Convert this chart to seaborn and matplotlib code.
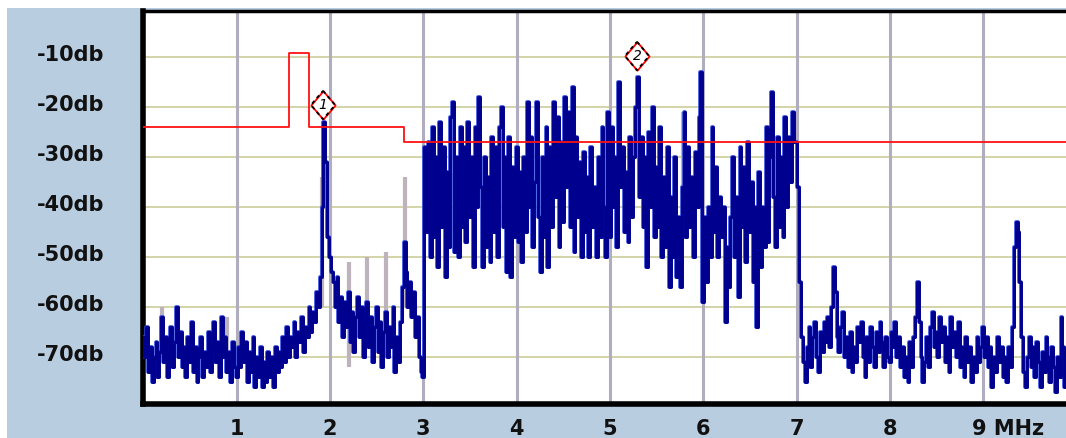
import numpy as np
import pandas as pd
import seaborn as sns
import matplotlib.pyplot as plt
from matplotlib.path import Path
from matplotlib.patches import Rectangle
from matplotlib.transforms import ScaledTranslation

# analyzer takes one reading every 0.02 MHz; one list per MHz band (db)
sweep_step = 0.02
level_0 = [-66, -70, -64, -73, -68, -75, -70, -67, -74, -69,
           -62, -71, -66, -74, -69, -64, -72, -67, -60, -70,
           -65, -72, -68, -74, -66, -71, -63, -73, -68, -75,
           -70, -66, -74, -69, -72, -65, -73, -68, -63, -71,
           -67, -74, -62, -70, -66, -73, -69, -75, -67, -72]
level_1 = [-74, -68, -72, -65, -71, -67, -75, -69, -73, -66,
           -76, -70, -74, -68, -76, -71, -75, -69, -74, -70,
           -76, -68, -73, -69, -72, -66, -71, -64, -70, -66,
           -68, -63, -70, -65, -67, -62, -69, -64, -66, -60,
           -65, -61, -63, -57, -60, -54, -40, -23, -31, -46]
level_2 = [-50, -53, -55, -60, -54, -63, -58, -66, -59, -64,
           -57, -67, -61, -69, -62, -58, -66, -60, -70, -63,
           -59, -68, -62, -71, -64, -60, -69, -63, -72, -65,
           -61, -70, -64, -68, -60, -73, -66, -71, -63, -56,
           -47, -53, -60, -55, -62, -57, -66, -62, -70, -73]
level_3 = [-74, -28, -45, -27, -50, -24, -46, -30, -52, -23,
           -44, -28, -54, -33, -48, -22, -19, -49, -30, -50,
           -24, -44, -28, -47, -23, -42, -30, -52, -24, -40,
           -18, -36, -52, -30, -48, -34, -51, -26, -45, -28,
           -50, -24, -20, -44, -30, -53, -26, -54, -32, -46]
level_4 = [-28, -47, -33, -51, -30, -45, -19, -40, -26, -48,
           -35, -19, -42, -53, -30, -46, -24, -52, -28, -44,
           -19, -38, -22, -48, -27, -43, -18, -36, -21, -44,
           -16, -49, -26, -42, -31, -50, -29, -45, -34, -50,
           -28, -44, -36, -50, -30, -46, -24, -40, -50, -21]
level_5 = [-46, -24, -40, -30, -48, -15, -36, -28, -45, -33,
           -47, -26, -42, -30, -20, -14, -38, -26, -44, -30,
           -52, -25, -40, -20, -46, -32, -44, -24, -50, -34,
           -48, -28, -56, -38, -50, -30, -54, -42, -56, -36,
           -21, -46, -28, -44, -34, -50, -29, -40, -22, -13]
level_6 = [-59, -42, -55, -40, -50, -24, -45, -32, -50, -38,
           -46, -40, -63, -48, -56, -42, -30, -50, -38, -58,
           -28, -44, -32, -51, -27, -45, -35, -55, -40, -64,
           -33, -52, -40, -48, -24, -47, -30, -17, -38, -48,
           -26, -44, -30, -46, -22, -40, -26, -35, -21, -27]
level_7 = [-27, -36, -55, -66, -71, -75, -68, -64, -72, -66,
           -63, -70, -73, -65, -69, -63, -67, -62, -68, -60,
           -52, -57, -66, -69, -64, -61, -70, -66, -72, -65,
           -73, -68, -71, -64, -67, -63, -70, -74, -66, -71,
           -64, -68, -72, -65, -69, -63, -67, -72, -66, -70]
level_8 = [-71, -65, -68, -63, -70, -66, -72, -68, -74, -70,
           -75, -67, -72, -66, -62, -55, -63, -70, -75, -71,
           -66, -72, -64, -61, -68, -65, -70, -62, -67, -64,
           -71, -66, -73, -62, -68, -65, -70, -63, -72, -68,
           -74, -66, -71, -68, -75, -70, -73, -66, -71, -68]
level_9 = [-64, -70, -66, -72, -68, -76, -70, -73, -66, -71,
           -68, -74, -70, -75, -68, -72, -64, -48, -43, -45,
           -55, -66, -73, -76, -70, -66, -72, -68, -74, -67,
           -71, -76, -69, -73, -66, -70, -75, -68, -72, -77,
           -70, -74, -62, -68, -76]
bands = [level_0, level_1, level_2, level_3, level_4,
         level_5, level_6, level_7, level_8, level_9]

# grey max-hold spikes behind the trace
hold_freq = [0.20, 0.90, 1.91, 2.20, 2.40, 2.60, 2.80, 5.78, 6.45]
hold_top = [-60, -62, -34, -51, -50, -49, -34, -21, -36]
hold_bottom = [-70, -72, -60, -72, -68, -70, -60, -43, -50]

# limit mask (red)
mask_freq = [0.0, 1.56, 1.77, 2.79, 9.9]
mask_level = [-24, -9.2, -24, -27, -27]

# markers
marker_freq = [1.925, 5.29]
marker_level = [-19.6, -9.8]
marker_text = ["1", "2"]

y_ticks = [-10, -20, -30, -40, -50, -60, -70]
y_labels = ["-10db", "-20db", "-30db", "-40db", "-50db", "-60db", "-70db"]
x_ticks = [1, 2, 3, 4, 5, 6, 7, 8, 9]
x_labels = ["1", "2", "3", "4", "5", "6", "7", "8", "9 MHz"]

rows = []
for mhz, band in enumerate(bands):
    for i, v in enumerate(band):
        rows.append((mhz + i * sweep_step, v))
df = pd.DataFrame(rows, columns=["freq", "level"])

sns.set_style("white")
plt.rcParams['font.family'] = ['DejaVu Sans']

fig = plt.figure(figsize=(10.66, 4.38), dpi=100, facecolor="white")
fig.patches.append(Rectangle((7/1066, 0), 1, 430/438, transform=fig.transFigure,
                             facecolor="#b9cde1", edgecolor="none", zorder=-5))
ax = fig.add_axes([143.4/1066, 34.5/438, (1066-143.4)/1066, 392.5/438])
ax.set_zorder(1)
ax.set_facecolor("white")

ax.set_xlim(0, (1066-143.4)/93.3)
ax.set_ylim(-79.3, -0.8)

# grid
for t in y_ticks:
    ax.axhline(t, color="#cdcd9c", lw=1.2, zorder=1)
for t in x_ticks:
    ax.axvline(t, color="#b1adc0", lw=2.2, zorder=1)

ax.vlines(hold_freq, hold_bottom, hold_top, color="#bdb3bd", lw=3, zorder=2)

sns.lineplot(data=df, x="freq", y="level", ax=ax, color="#2a45e0", lw=2.6,
             drawstyle="steps-mid", estimator=None, zorder=3)
sns.lineplot(data=df, x="freq", y="level", ax=ax, color="#00008f", lw=2.1,
             drawstyle="steps-mid", estimator=None, zorder=4)

sns.lineplot(x=mask_freq, y=mask_level, ax=ax, color="#ff1010", lw=1.3,
             drawstyle="steps-post", estimator=None, zorder=5)

diamond = Path([(0, 1), (0.85, 0), (0, -1), (-0.85, 0), (0, 1)],
               [Path.MOVETO, Path.LINETO, Path.LINETO, Path.LINETO, Path.CLOSEPOLY])
ax.scatter(marker_freq, marker_level, marker=diamond, s=420, facecolor="white",
           edgecolor="red", linewidths=1.3, zorder=6)
ax.scatter(marker_freq, marker_level, marker=diamond, s=420, facecolor="none",
           edgecolor="black", linewidths=1.3, linestyle=(0, (2, 2)), zorder=7)
for f, l, t in zip(marker_freq, marker_level, marker_text):
    ax.text(f, l, t, ha="center", va="center", fontsize=10, fontstyle="italic",
            color="black", zorder=8)

ax.set_xticks(x_ticks)
ax.set_xticklabels(x_labels, fontsize=15, fontweight="bold")
ax.set_yticks(y_ticks)
ax.set_yticklabels(y_labels, fontsize=15, fontweight="bold")
ax.tick_params(axis="both", length=0, labelcolor="#111111")
ax.tick_params(axis="y", pad=28)
ax.tick_params(axis="x", pad=11)
last = ax.get_xticklabels()[-1]
last.set_horizontalalignment("left")
last.set_transform(last.get_transform() + ScaledTranslation(-8/72, 0, fig.dpi_scale_trans))
for lab in ax.get_yticklabels():
    lab.set_transform(lab.get_transform() + ScaledTranslation(0, 3/72, fig.dpi_scale_trans))

ax.set_xlabel("")
ax.set_ylabel("")
for s in ["left", "bottom"]:
    ax.spines[s].set_visible(True)
    ax.spines[s].set_color("black")
    ax.spines[s].set_linewidth(4)
ax.spines["top"].set_color("black")
ax.spines["top"].set_linewidth(2.5)
ax.spines["right"].set_visible(False)

fig.savefig("out.png", dpi=100, facecolor="white")
